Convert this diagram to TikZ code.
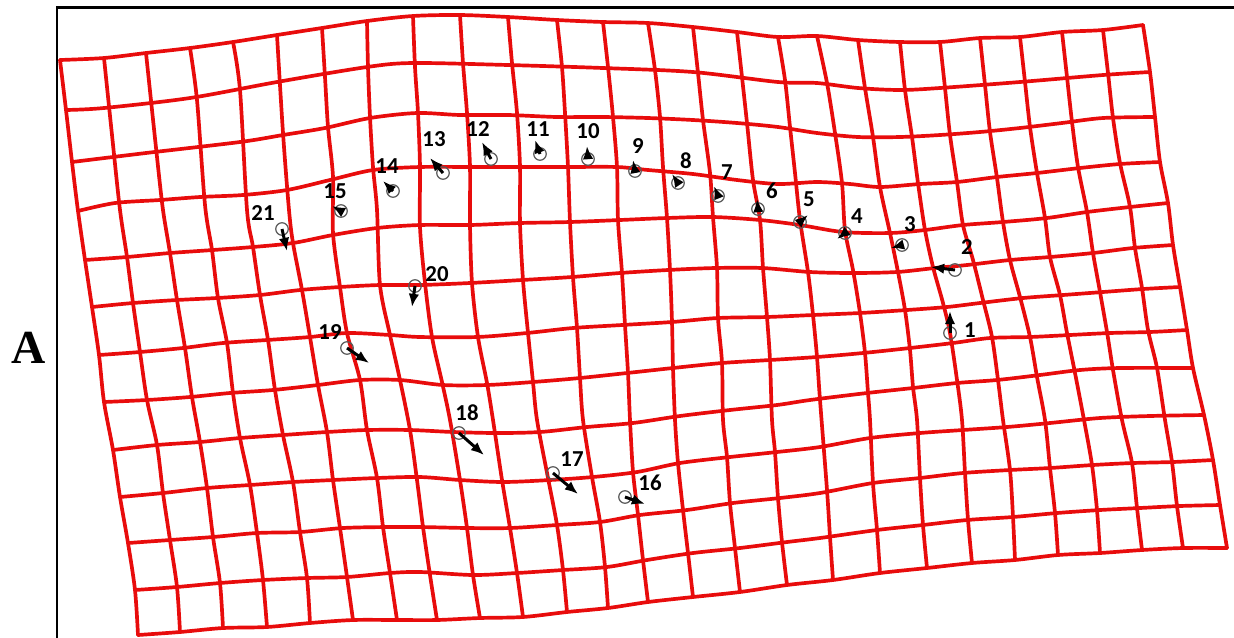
\documentclass[tikz,border=0pt]{standalone}
\usepackage{fontspec}
\usetikzlibrary{arrows.meta}
\newfontfamily\labfont{Carlito}
\newfontfamily\panelfont{Liberation Serif}
\definecolor{gridred}{RGB}{232,12,12}

\begin{document}
\begin{tikzpicture}[x=0.02cm, y=-0.02cm]
  % styles
  \tikzset{
    g/.style={draw=gridred, line width=2.1pt, line join=round, line cap=round},
    lm/.style={circle, draw=black!65, line width=0.7pt, inner sep=0pt, minimum size=0.25cm},
    mv/.style={-{Latex[length=7.5pt, width=6pt]}, line width=1.7pt, black},
    num/.style={font=\labfont\bfseries\fontsize{13}{15}\selectfont, inner sep=0pt},
    frame/.style={draw=black, line width=1.7pt}
  }
  \useasboundingbox (0,0) rectangle (1234,637);

  % panel frame and letter
  \draw[frame] (57,660) -- (57,7) -- (1260,7);
  \node[font=\panelfont\bfseries\fontsize{27}{30}\selectfont, inner sep=0pt] (panel) at (29,348) {A};

  % rows (top to bottom)
  \draw[g] plot[smooth, tension=0.5] coordinates {(60,60) (104,58) (146,53) (190,48) (233,42) (277,35) (322,28) (367,21) (413,16) (460,15) (508,17) (557,20) (603,22) (648,23) (693,27) (737,32) (778,37) (817,36) (858,40) (900,42) (940,42) (980,38) (1020,37) (1062,32) (1103,30) (1143,25)};
  \draw[g] plot[smooth, tension=0.5] coordinates {(66,110) (104,108) (190,98) (277,82) (367,67) (413,63) (508,65) (603,68) (693,72) (778,82) (817,83) (858,88) (900,90) (940,88) (1020,82) (1103,75) (1150,72)};
  \draw[g] plot[smooth, tension=0.5] coordinates {(72,162) (146,153) (240,142) (283,135) (325,128) (370,118) (417,113) (460,115) (508,115) (557,117) (603,117) (648,118) (693,120) (737,123) (778,127) (817,133) (858,137) (900,137) (940,135) (980,132) (1020,128) (1062,123) (1103,118) (1155,117)};
  \draw[g] plot[smooth, tension=0.5] coordinates {(78,211) (115,203) (160,200) (200,197) (243,195) (287,190) (330,180) (373,170) (420,167) (470,167) (520,167) (568,167) (617,167) (648,170) (693,174) (737,180) (778,184) (817,182) (850,184) (880,187) (920,184) (957,182) (997,177) (1037,173) (1080,168) (1120,164) (1160,162)};
  \draw[g] plot[smooth, tension=0.5] coordinates {(85,260) (127,257) (170,253) (213,250) (253,247) (293,243) (333,235) (377,228) (420,225) (470,225) (520,223) (570,222) (620,220) (667,218) (713,217) (760,220) (800,225) (843,232) (890,233) (925,230) (963,225) (1003,222) (1047,218) (1087,212) (1130,207) (1168,203)};
  \draw[g] plot[smooth, tension=0.5] coordinates {(92,307) (133,303) (177,300) (217,298) (260,295) (300,290) (340,287) (380,285) (420,285) (470,283) (522,280) (572,277) (620,273) (668,270) (715,268) (762,268) (810,272) (853,273) (897,272) (935,268) (967,265) (1010,260) (1050,257) (1093,253) (1133,248) (1173,245)};
  \draw[g] plot[smooth, tension=0.5] coordinates {(99,355) (140,352) (183,348) (223,343) (267,340) (310,337) (347,333) (390,335) (420,337) (477,337) (527,333) (573,328) (622,325) (672,322) (718,318) (767,317) (813,315) (860,313) (907,310) (947,307) (980,303) (1023,298) (1063,295) (1103,292) (1143,289) (1180,287)};
  \draw[g] plot[smooth, tension=0.5] coordinates {(104,402) (147,400) (190,397) (230,393) (273,390) (318,385) (360,380) (400,380) (443,385) (487,385) (533,382) (580,378) (627,373) (673,368) (722,363) (770,360) (817,357) (863,353) (910,348) (953,343) (990,338) (1030,337) (1070,335) (1110,333) (1150,332) (1187,330)};
  \draw[g] plot[smooth, tension=0.5] coordinates {(113,450) (157,445) (200,442) (240,438) (283,435) (327,432) (367,430) (410,430) (453,432) (497,433) (540,432) (587,427) (633,423) (680,416) (730,410) (777,405) (810,400) (867,393) (913,388) (957,383) (997,380) (1040,375) (1080,370) (1120,368) (1193,368)};
  \draw[g] plot[smooth, tension=0.5] coordinates {(120,497) (163,493) (207,488) (250,485) (293,482) (333,480) (377,478) (420,477) (460,480) (503,482) (550,480) (593,477) (637,472) (680,463) (730,457) (777,452) (820,447) (870,438) (920,433) (963,430) (1007,427) (1050,423) (1100,418) (1150,416) (1204,415)};
  \draw[g] plot[smooth, tension=0.5] coordinates {(128,543) (170,540) (213,537) (257,533) (300,532) (343,528) (387,527) (420,527) (467,528) (510,528) (557,525) (600,522) (640,515) (687,510) (733,503) (780,498) (820,493) (873,483) (920,478) (963,473) (1010,470) (1050,468) (1093,465) (1133,463) (1173,462) (1213,460)};
  \draw[g] plot[smooth, tension=0.5] coordinates {(135,590) (177,587) (220,583) (263,580) (307,578) (347,577) (390,573) (420,572) (473,575) (517,573) (563,570) (607,567) (647,560) (693,553) (740,548) (787,542) (820,538) (877,530) (923,525) (967,520) (1013,517) (1057,513) (1100,510) (1140,508) (1180,506) (1220,505)};
  \draw[g] plot[smooth, tension=0.5] coordinates {(138,635) (180,632) (223,628) (267,627) (310,623) (353,620) (397,620) (437,620) (480,618) (523,617) (567,612) (608,608) (648,602) (693,597) (740,592) (787,585) (833,580) (880,573) (927,568) (972,563) (1015,560) (1058,555) (1100,553) (1142,550) (1183,548) (1227,548)};

  % columns (left to right)
  \draw[g] plot[smooth, tension=0.5] coordinates {(60,60) (66,110) (72,162) (78,211) (85,260) (92,307) (99,355) (104,402) (113,450) (120,497) (128,543) (135,590) (138,635)};
  \draw[g] plot[smooth, tension=0.5] coordinates {(104,58) (112,135) (120,210) (127,257) (133,303) (140,352) (147,400) (157,445) (163,493) (170,540) (177,587) (180,632)};
  \draw[g] plot[smooth, tension=0.5] coordinates {(146,53) (157,157) (163,210) (170,253) (177,300) (185,348) (192,397) (200,442) (207,488) (213,537) (220,583) (223,628)};
  \draw[g] plot[smooth, tension=0.5] coordinates {(190,48) (197,100) (205,205) (212,250) (218,298) (227,343) (233,393) (240,438) (250,485) (257,533) (263,580) (267,627)};
  \draw[g] plot[smooth, tension=0.5] coordinates {(233,42) (240,90) (247,210) (253,247) (260,295) (268,340) (275,390) (283,435) (293,482) (300,532) (307,578) (310,623)};
  \draw[g] plot[smooth, tension=0.5] coordinates {(277,35) (283,133) (289,210) (293,243) (302,290) (310,337) (318,385) (327,432) (333,480) (340,528) (347,577) (353,620)};
  \draw[g] plot[smooth, tension=0.5] coordinates {(322,28) (325,77) (328,127) (333,177) (333,233) (340,287) (347,333) (360,380) (367,430) (377,478) (383,527) (390,573) (397,620)};
  \draw[g] plot[smooth, tension=0.5] coordinates {(367,21) (368,67) (370,117) (373,167) (377,210) (380,285) (390,335) (400,380) (410,430) (417,480) (423,527) (430,575) (437,620)};
  \draw[g] plot[smooth, tension=0.5] coordinates {(413,16) (415,67) (418,113) (420,167) (420,227) (425,283) (432,337) (442,382) (450,420) (460,480) (467,528) (473,575) (480,618)};
  \draw[g] plot[smooth, tension=0.5] coordinates {(460,15) (463,63) (467,113) (470,167) (470,225) (472,283) (478,337) (487,383) (493,420) (502,480) (510,528) (517,573) (523,617)};
  \draw[g] plot[smooth, tension=0.5] coordinates {(508,17) (512,63) (517,113) (520,167) (520,223) (523,280) (528,333) (533,382) (537,420) (548,478) (557,525) (563,570) (567,612)};
  \draw[g] plot[smooth, tension=0.5] coordinates {(557,20) (562,67) (565,113) (568,167) (570,222) (573,277) (577,328) (580,378) (583,420) (592,477) (600,522) (605,567) (608,608)};
  \draw[g] plot[smooth, tension=0.5] coordinates {(603,22) (608,67) (613,117) (617,167) (618,220) (622,273) (625,325) (628,373) (630,420) (633,472) (638,515) (643,560) (648,602)};
  \draw[g] plot[smooth, tension=0.5] coordinates {(648,23) (655,70) (660,117) (663,167) (667,218) (670,270) (672,322) (673,368) (675,420) (678,463) (683,510) (688,553) (693,597)};
  \draw[g] plot[smooth, tension=0.5] coordinates {(693,27) (698,73) (703,120) (710,173) (713,217) (717,268) (718,318) (722,363) (723,420) (727,457) (730,503) (735,548) (740,592)};
  \draw[g] plot[smooth, tension=0.5] coordinates {(737,32) (742,77) (747,123) (753,180) (760,220) (763,268) (767,317) (770,360) (772,420) (775,452) (778,498) (782,542) (787,585)};
  \draw[g] plot[smooth, tension=0.5] coordinates {(778,37) (785,80) (790,127) (795,173) (800,220) (808,272) (813,315) (817,357) (820,400) (827,490) (830,537) (833,580)};
  \draw[g] plot[smooth, tension=0.5] coordinates {(817,36) (827,83) (835,133) (842,183) (845,230) (853,270) (860,313) (865,353) (868,393) (870,420) (873,483) (877,530) (880,573)};
  \draw[g] plot[smooth, tension=0.5] coordinates {(858,40) (865,88) (873,137) (880,187) (890,233) (898,272) (905,310) (910,350) (913,387) (917,420) (920,478) (923,525) (927,568)};
  \draw[g] plot[smooth, tension=0.5] coordinates {(900,42) (905,90) (912,137) (918,183) (925,230) (933,267) (943,303) (950,333) (957,380) (962,420) (965,473) (968,520) (972,563)};
  \draw[g] plot[smooth, tension=0.5] coordinates {(940,42) (945,88) (950,135) (957,182) (963,225) (973,260) (983,300) (992,337) (998,380) (1003,420) (1010,470) (1013,517) (1015,560)};
  \draw[g] plot[smooth, tension=0.5] coordinates {(980,38) (985,85) (990,132) (997,178) (1003,222) (1010,260) (1020,297) (1030,337) (1037,377) (1045,420) (1050,468) (1055,513) (1058,555)};
  \draw[g] plot[smooth, tension=0.5] coordinates {(1020,37) (1025,82) (1030,127) (1037,173) (1045,218) (1050,257) (1060,295) (1067,333) (1075,373) (1084,420) (1092,465) (1097,510) (1100,553)};
  \draw[g] plot[smooth, tension=0.5] coordinates {(1062,32) (1067,77) (1072,122) (1078,167) (1087,212) (1093,253) (1100,292) (1107,332) (1113,370) (1122,420) (1132,463) (1137,508) (1142,550)};
  \draw[g] plot[smooth, tension=0.5] coordinates {(1103,30) (1108,73) (1113,118) (1120,163) (1130,207) (1135,248) (1142,288) (1148,330) (1157,368) (1165,420) (1172,462) (1177,506) (1183,548)};
  \draw[g] plot[smooth, tension=0.5] coordinates {(1143,25) (1150,72) (1155,117) (1160,162) (1168,203) (1173,245) (1180,287) (1187,330) (1193,368) (1204,415) (1213,460) (1220,505) (1227,548)};

  % landmarks
  \node[lm] (p1) at (950,333) {};
  \node[lm] (p2) at (955,270) {};
  \node[lm] (p3) at (902,245) {};
  \node[lm] (p4) at (845,233) {};
  \node[lm] (p5) at (800,222) {};
  \node[lm] (p6) at (758,209) {};
  \node[lm] (p7) at (718,196) {};
  \node[lm] (p8) at (678,183) {};
  \node[lm] (p9) at (635,171) {};
  \node[lm] (p10) at (588,159) {};
  \node[lm] (p11) at (540,154) {};
  \node[lm] (p12) at (491,159) {};
  \node[lm] (p13) at (443,173) {};
  \node[lm] (p14) at (393,191) {};
  \node[lm] (p15) at (341,211) {};
  \node[lm] (p16) at (625,497) {};
  \node[lm] (p17) at (553,473) {};
  \node[lm] (p18) at (459,433) {};
  \node[lm] (p19) at (347,348) {};
  \node[lm] (p20) at (415,286) {};
  \node[lm] (p21) at (282,229) {};

  % arrow tips
  \coordinate (t1) at (950,311);
  \coordinate (t2) at (931,267);
  \coordinate (t3) at (891,248);
  \coordinate (t4) at (837,239);
  \coordinate (t5) at (808,215);
  \coordinate (t6) at (757,199);
  \coordinate (t7) at (714,186);
  \coordinate (t8) at (672,174);
  \coordinate (t9) at (633,160);
  \coordinate (t10) at (587,146);
  \coordinate (t11) at (535,140);
  \coordinate (t12) at (482,142);
  \coordinate (t13) at (430,158);
  \coordinate (t14) at (383,181);
  \coordinate (t15) at (332,206);
  \coordinate (t16) at (645,504);
  \coordinate (t17) at (578,494);
  \coordinate (t18) at (484,455);
  \coordinate (t19) at (369,363);
  \coordinate (t20) at (412,307);
  \coordinate (t21) at (287,251);

  \foreach \k in {1,...,21}
    \draw[mv] (p\k.center) -- (t\k);

  % numbers
  \node[num] (n1) at (970,330) {1};
  \node[num] (n2) at (967,247) {2};
  \node[num] (n3) at (910,224) {3};
  \node[num] (n4) at (857,216) {4};
  \node[num] (n5) at (809,199) {5};
  \node[num] (n6) at (772,191) {6};
  \node[num] (n7) at (727,172) {7};
  \node[num] (n8) at (686,161) {8};
  \node[num] (n9) at (638,146) {9};
  \node[num] (n10) at (588,131) {10};
  \node[num] (n11) at (538,129) {11};
  \node[num] (n12) at (478,129) {12};
  \node[num] (n13) at (434,139) {13};
  \node[num] (n14) at (387,166) {14};
  \node[num] (n15) at (335,191) {15};
  \node[num] (n16) at (650,483) {16};
  \node[num] (n17) at (572,459) {17};
  \node[num] (n18) at (467,413) {18};
  \node[num] (n19) at (330,332) {19};
  \node[num] (n20) at (437,274) {20};
  \node[num] (n21) at (263,213) {21};
\end{tikzpicture}
\end{document}
